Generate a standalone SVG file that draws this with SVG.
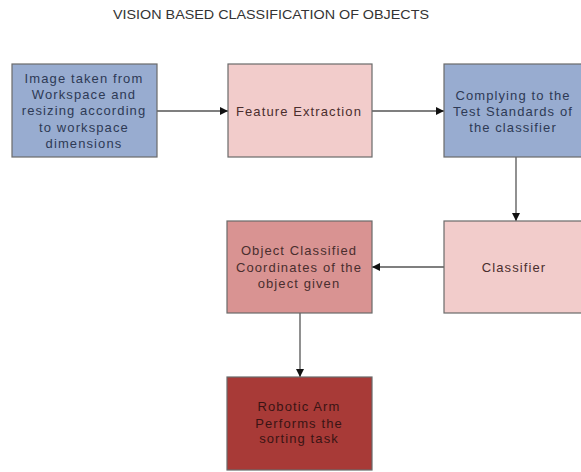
<svg xmlns="http://www.w3.org/2000/svg" width="581" height="472" viewBox="0 0 581 472">
<defs>
<style>
.box{stroke:#6a6a6a;stroke-width:1.2}
.blue{fill:#98acd0}
.pink{fill:#f2cccb}
.mid{fill:#d99392}
.dark{fill:#a83a37}
text{font-family:"Liberation Sans",Arial,sans-serif;font-size:13px;letter-spacing:1.1px;text-anchor:middle;dominant-baseline:central}
.tb{fill:#2e3a55}
.tp{fill:#4a2e2e}
.td{fill:#3a1414}
.title{fill:#333;font-size:12px;letter-spacing:0}
.conn{stroke:#555;stroke-width:1.3;fill:none}
</style>
<marker id="ah" viewBox="0 0 10 10" refX="10" refY="5" markerWidth="8" markerHeight="8" markerUnits="userSpaceOnUse" orient="auto">
<path d="M0,0 L10,5 L0,10 z" fill="#111"/>
</marker>
</defs>
<rect width="581" height="472" fill="#fff"/>
<text class="title" x="271" y="15" textLength="316" lengthAdjust="spacingAndGlyphs">VISION BASED CLASSIFICATION OF OBJECTS</text>

<g id="connectors">
<line class="conn" x1="157" y1="111" x2="228" y2="111" marker-end="url(#ah)"/>
<line class="conn" x1="372" y1="111" x2="444" y2="111" marker-end="url(#ah)"/>
<line class="conn" x1="516" y1="157" x2="516" y2="221" marker-end="url(#ah)"/>
<line class="conn" x1="444" y1="267" x2="372" y2="267" marker-end="url(#ah)"/>
<line class="conn" x1="300" y1="313" x2="300" y2="377" marker-end="url(#ah)"/>
</g>

<g id="n1">
<rect class="box blue" x="12" y="64" width="145" height="93"/>
<text class="tb" x="84" y="78">Image taken from</text>
<text class="tb" x="84" y="94">Workspace and</text>
<text class="tb" x="84" y="110">resizing according</text>
<text class="tb" x="84" y="127">to workspace</text>
<text class="tb" x="84" y="143">dimensions</text>
</g>

<g id="n2">
<rect class="box pink" x="228" y="64" width="144" height="93"/>
<text class="tp" x="299" y="111">Feature Extraction</text>
</g>

<g id="n3">
<rect class="box blue" x="444" y="64" width="145" height="93"/>
<text class="tb" x="513" y="95">Complying to the</text>
<text class="tb" x="513" y="111">Test Standards of</text>
<text class="tb" x="513" y="127">the classifier</text>
</g>

<g id="n4">
<rect class="box pink" x="444" y="221" width="145" height="92"/>
<text class="tp" x="514" y="267">Classifier</text>
</g>

<g id="n5">
<rect class="box mid" x="227" y="221" width="145" height="92"/>
<text class="tp" x="299" y="250">Object Classified</text>
<text class="tp" x="299" y="267">Coordinates of the</text>
<text class="tp" x="299" y="283">object given</text>
</g>

<g id="n6">
<rect class="box dark" x="227" y="377" width="145" height="93"/>
<text class="td" x="299" y="406">Robotic Arm</text>
<text class="td" x="299" y="423">Performs the</text>
<text class="td" x="299" y="438">sorting task</text>
</g>
</svg>
